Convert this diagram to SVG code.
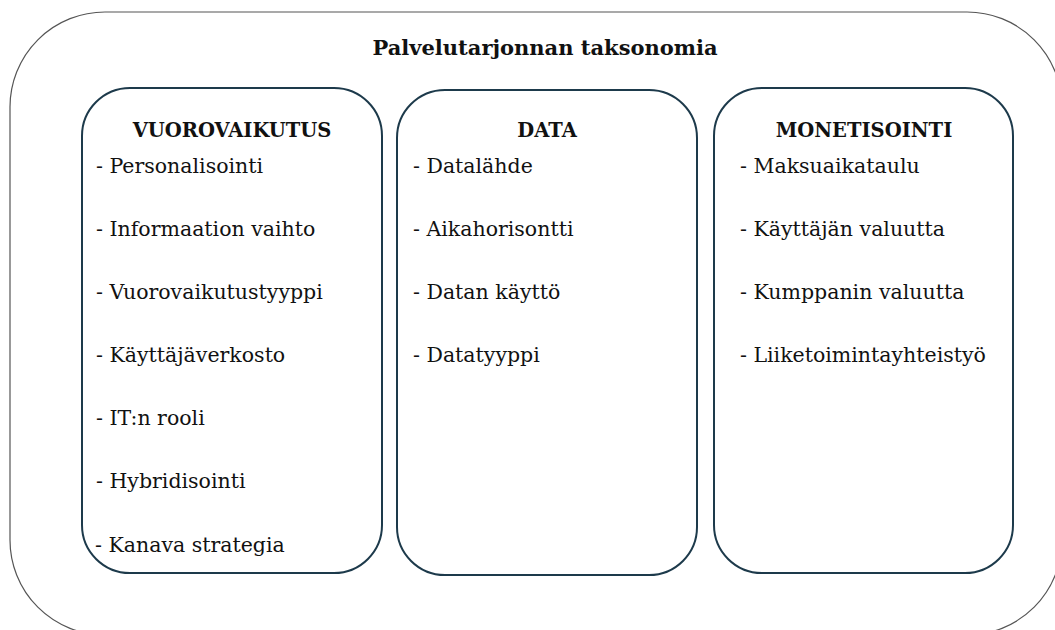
<svg xmlns="http://www.w3.org/2000/svg" width="1055" height="630" viewBox="0 0 1055 630">
<style>
.outer{fill:#fff;stroke:#555;stroke-width:1.2}
.box{fill:#fff;stroke:#1d3a4b;stroke-width:2}
.title{font-family:"DejaVu Serif","Liberation Serif",serif;font-weight:bold;font-size:21px;fill:#111;text-anchor:middle}
.head{font-family:"DejaVu Serif","Liberation Serif",serif;font-weight:bold;font-size:19.5px;fill:#111;text-anchor:middle}
.item{font-family:"DejaVu Serif","Liberation Serif",serif;font-size:20.5px;fill:#111}
</style>
<rect width="1055" height="630" fill="#fff"/>
<g id="outer">
<rect class="outer" x="10" y="12" width="1052" height="623" rx="95" ry="95"/>
<text class="title" x="545" y="55">Palvelutarjonnan taksonomia</text>
</g>
<g id="connectors"></g>
<g id="vuorovaikutus">
<rect class="box" x="82" y="88" width="300" height="485" rx="48" ry="48"/>
<text class="head" x="232" y="137">VUOROVAIKUTUS</text>
<text class="item" x="96" y="173">- Personalisointi</text>
<text class="item" x="96" y="236">- Informaation vaihto</text>
<text class="item" x="96" y="299">- Vuorovaikutustyyppi</text>
<text class="item" x="96" y="362">- Käyttäjäverkosto</text>
<text class="item" x="96" y="425">- IT:n rooli</text>
<text class="item" x="96" y="488">- Hybridisointi</text>
<text class="item" x="95" y="552">- Kanava strategia</text>
</g>
<g id="data">
<rect class="box" x="397" y="90" width="300" height="485" rx="48" ry="48"/>
<text class="head" x="547" y="137">DATA</text>
<text class="item" x="413" y="173">- Datalähde</text>
<text class="item" x="413" y="236">- Aikahorisontti</text>
<text class="item" x="413" y="299">- Datan käyttö</text>
<text class="item" x="413" y="362">- Datatyyppi</text>
</g>
<g id="monetisointi">
<rect class="box" x="714" y="88" width="299" height="485" rx="48" ry="48"/>
<text class="head" x="864" y="137">MONETISOINTI</text>
<text class="item" x="740" y="173">- Maksuaikataulu</text>
<text class="item" x="740" y="236">- Käyttäjän valuutta</text>
<text class="item" x="740" y="299">- Kumppanin valuutta</text>
<text class="item" x="740" y="362">- Liiketoimintayhteistyö</text>
</g>
</svg>
